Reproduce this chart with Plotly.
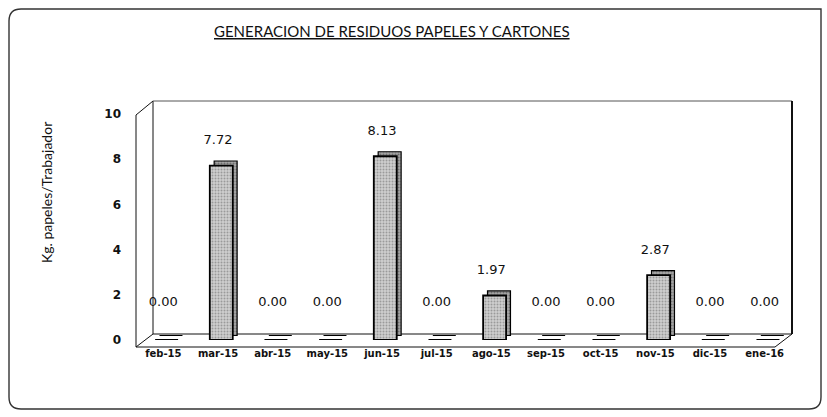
import plotly.graph_objects as go

months = ["feb-15", "mar-15", "abr-15", "may-15", "jun-15", "jul-15",
          "ago-15", "sep-15", "oct-15", "nov-15", "dic-15", "ene-16"]
values = [0.00, 7.72, 0.00, 0.00, 8.13, 0.00, 1.97, 0.00, 0.00, 2.87, 0.00, 0.00]
y_ticks = [0, 2, 4, 6, 8, 10]

title_text = "GENERACION DE RESIDUOS PAPELES Y CARTONES"
y_title = "Kg. papeles/Trabajador"

# layout in pixels
W, H = 827, 417
L, R, T, B = 136, 35, 114, 77
PW, PH = W - L - R, H - T - B


def px(x):
    return (x - L) / PW


def py(y):
    return (H - B - y) / PH


label_y = [v + 1.1 if v > 0 else 1.65 for v in values]
labels = [f"{v:.2f}" for v in values]

fig = go.Figure()

# depth (side) of the 3D bars
fig.add_trace(go.Bar(
    x=months, y=values, base=0.2, width=0.42, offset=-0.07,
    marker=dict(color="#9a9a9a", line=dict(color="#000", width=1.2),
                pattern=dict(shape=".", fgcolor="#333", bgcolor="#a8a8a8", size=3, solidity=0.4)),
    hoverinfo="skip", showlegend=False,
))
# front face
fig.add_trace(go.Bar(
    x=months, y=values, width=0.42, offset=-0.15,
    marker=dict(color="#cfcfcf", line=dict(color="#000", width=1.8),
                pattern=dict(shape=".", fgcolor="#666", bgcolor="#cfcfcf", size=3, solidity=0.35)),
    showlegend=False,
))
# value labels
fig.add_trace(go.Scatter(
    x=months, y=label_y, text=labels, mode="text",
    textfont=dict(family="DejaVu Sans", size=13, color="#111"),
    hoverinfo="skip", showlegend=False,
))

shapes = []
def seg(x0, y0, x1, y1, width=1, color="#111"):
    shapes.append(dict(type="line", xref="paper", yref="paper",
                       x0=px(x0), y0=py(y0), x1=px(x1), y1=py(y1),
                       line=dict(color=color, width=width), layer="below"))

# 3D box frame
seg(136, 115, 136, 347)
seg(136, 115, 153, 101)
seg(153, 101, 153, 334)
seg(153, 101, 792, 101, color="#555")
seg(792, 101, 792, 334, width=2)
seg(153, 334, 792, 334)
seg(136, 347, 775, 347)
seg(136, 347, 153, 334)
seg(775, 347, 792, 334)

# outer rounded border
x0, y0, x1, y1, r = 9, 9, 821, 409, 12
path = (f"M {px(x0+r)},{py(y0)} L {px(x1)},{py(y0)} L {px(x1)},{py(y1-r)} "
        f"Q {px(x1)},{py(y1)} {px(x1-r)},{py(y1)} L {px(x0+r)},{py(y1)} "
        f"Q {px(x0)},{py(y1)} {px(x0)},{py(y1-r)} L {px(x0)},{py(y0+r)} "
        f"Q {px(x0)},{py(y0)} {px(x0+r)},{py(y0)} Z")
shapes.append(dict(type="path", xref="paper", yref="paper", path=path,
                   line=dict(color="#333", width=1.4), layer="below"))

fig.update_layout(
    width=W, height=H,
    margin=dict(l=L, r=R, t=T, b=B),
    paper_bgcolor="white", plot_bgcolor="rgba(0,0,0,0)",
    barmode="overlay",
    shapes=shapes,
    annotations=[
        dict(text=f"<u>{title_text}</u>", xref="paper", yref="paper",
             x=px(392), y=py(31), xanchor="center", yanchor="middle", showarrow=False,
             font=dict(family="Lato, Open Sans", size=15, color="#111")),
        dict(text=y_title, xref="paper", yref="paper", x=px(46), y=py(193),
             xanchor="center", yanchor="middle",
             textangle=-90, showarrow=False,
             font=dict(family="Lato, Open Sans", size=14, color="#111")),
    ],
    xaxis=dict(showgrid=False, showline=False, zeroline=False, ticks="",
               tickfont=dict(family="DejaVu Sans", size=10, color="#111", weight="bold"),
               ticklabelstandoff=6, range=[-0.5, 11.5]),
    yaxis=dict(range=[0, 10], tickvals=y_ticks, showgrid=False, showline=False,
               zeroline=False, ticks="", ticklabelstandoff=14,
               tickfont=dict(family="DejaVu Sans", size=12, color="#111", weight="bold")),
)

fig.write_html("out.html", config={"displayModeBar": False},
               post_script="document.body.style.margin='0';document.body.style.overflow='hidden';")
